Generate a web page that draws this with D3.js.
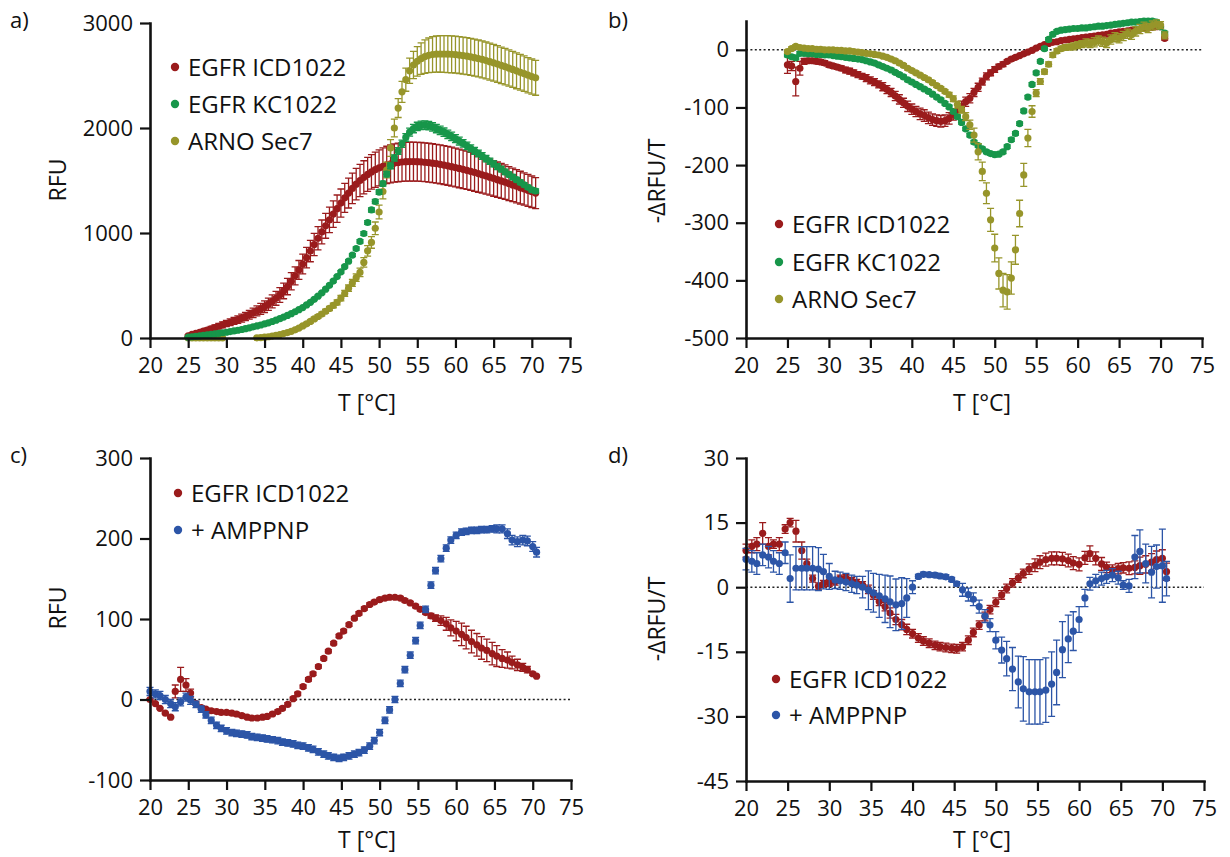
<!DOCTYPE html>
<html>
<head>
<meta charset="utf-8">
<script src="https://cdn.jsdelivr.net/npm/d3@7"></script>
<style>
  html, body { margin: 0; padding: 0; background: #fff; }
  svg { display: block; font-family: "Open Sans", "Noto Sans", sans-serif; }
</style>
</head>
<body>
<svg id="chart" width="1230" height="857"></svg>
<script>
// ---------- temperature grids (°C) ----------
const tempsAB = [
  25,25.5,26,26.5,27,27.5,28,28.5,29,29.5,
  30,30.5,31,31.5,32,32.5,33,33.5,34,34.5,
  35,35.5,36,36.5,37,37.5,38,38.5,39,39.5,
  40,40.5,41,41.5,42,42.5,43,43.5,44,44.5,
  45,45.5,46,46.5,47,47.5,48,48.5,49,49.5,
  50,50.5,51,51.5,52,52.5,53,53.5,54,54.5,
  55,55.5,56,56.5,57,57.5,58,58.5,59,59.5,
  60,60.5,61,61.5,62,62.5,63,63.5,64,64.5,
  65,65.5,66,66.5,67,67.5,68,68.5,69,69.5,
  70,70.5
];
const tempsCD = [
  20,20.7,21.3,22,22.7,23.3,24,24.7,25.3,26,26.7,27.3,28,28.7,29.3,
  30,30.7,31.3,32,32.7,33.3,34,34.7,35.3,36,36.7,37.3,38,38.7,39.3,
  40,40.7,41.3,42,42.7,43.3,44,44.7,45.3,46,46.7,47.3,48,48.7,49.3,
  50,50.7,51.3,52,52.7,53.3,54,54.7,55.3,56,56.7,57.3,58,58.7,59.3,
  60,60.7,61.3,62,62.7,63.3,64,64.7,65.3,66,66.7,67.3,68,68.7,69.3,
  70,70.5
];

// ---------- a) melt curves, RFU ----------
const rfuICD = [
  20,35,45,55,65,75,88,100,112,125,
  138,150,163,175,190,205,222,240,258,277,
  298,322,348,378,410,448,490,540,592,648,
  705,765,828,890,950,1010,1068,1125,1180,1232,
  1285,1335,1380,1425,1465,1500,1530,1558,1582,1603,
  1620,1635,1648,1658,1666,1672,1676,1679,1680,1680,
  1679,1677,1674,1670,1665,1660,1654,1647,1640,1632,
  1624,1615,1606,1597,1587,1577,1566,1555,1544,1532,
  1520,1508,1496,1484,1471,1458,1445,1432,1419,1406,
  1393,1380
];
const rfuICDErr = [
  10,12,14,16,18,20,22,24,26,28,
  30,32,34,36,38,40,42,45,48,52,
  55,58,62,66,70,74,78,82,86,90,
  94,98,102,106,110,114,118,122,126,130,
  134,138,142,146,150,154,158,162,165,168,
  172,175,178,180,182,184,185,185,185,185,
  185,185,185,185,185,185,185,185,185,185,
  185,184,183,182,181,180,178,176,174,172,
  170,168,166,164,162,160,158,156,154,152,
  150,148
];
const rfuKC = [
  8,12,16,20,25,30,35,40,45,50,
  55,61,67,74,81,89,97,106,115,124,
  134,145,157,170,184,199,215,232,250,270,
  290,315,340,368,398,430,465,502,542,585,
  630,680,732,790,852,920,995,1100,1220,1300,
  1390,1470,1560,1640,1715,1780,1850,1910,1960,1995,
  2015,2025,2028,2022,2010,1995,1978,1960,1940,1920,
  1898,1876,1853,1830,1806,1782,1758,1733,1708,1683,
  1658,1633,1608,1583,1558,1533,1508,1483,1459,1435,
  1412,1400
];
const rfuKCErr = [
  5,5,5,5,5,5,5,5,5,5,
  5,5,5,5,5,5,5,5,5,5,
  6,6,6,6,6,6,6,6,6,6,
  8,8,8,8,9,9,10,10,10,10,
  12,12,14,14,16,16,18,18,20,20,
  22,24,26,28,30,32,34,36,38,40,
  40,40,40,40,40,40,40,40,40,40,
  38,38,36,36,34,34,32,32,30,30,
  28,28,26,26,24,24,22,22,20,20,
  20,20
];
const rfuARNO = [
  0,0,0,0,0,0,0,0,0,0,
  null,null,null,null,null,null,null,null,2,4,
  8,12,18,25,33,42,52,64,78,95,
  115,135,158,182,205,228,255,282,310,340,
  380,425,475,525,575,625,720,830,910,1045,
  1200,1395,1600,1810,2000,2190,2345,2460,2545,2600,
  2635,2660,2680,2692,2700,2704,2705,2705,2704,2702,
  2699,2695,2690,2684,2677,2670,2662,2653,2643,2632,
  2621,2609,2597,2584,2571,2558,2545,2531,2517,2503,
  2490,2478
];
const rfuARNOErr = [
  5,5,5,5,5,5,5,5,5,5,
  0,0,0,0,0,0,0,0,5,5,
  5,5,6,6,7,8,9,10,11,12,
  13,14,15,16,17,18,19,20,22,24,
  26,28,30,33,36,40,45,50,55,60,
  65,70,75,80,85,90,100,110,120,130,
  140,150,160,165,170,172,174,175,176,176,
  176,176,176,176,176,176,176,176,176,176,
  175,175,174,174,173,172,171,170,169,168,
  167,166
];

// ---------- b) first derivative, -ΔRFU/T ----------
const dICD = [
  -26,-28,-55,-32,-20,-19,-19,-20,-21,-23,
  -26,-28,-30,-32,-35,-37,-40,-43,-46,-49,
  -53,-56,-60,-64,-69,-74,-80,-86,-92,-98,
  -103,-107,-111,-114,-118,-121,-123,-124,-123,-119,
  -112,-105,-98,-90,-84,-74,-65,-55,-46,-40,
  -34,-29,-25,-20,-16,-13,-10,-7,-4,-1,
  3,6,9,11,13,14,16,17,18,19,
  20,21,22,23,24,25,26,27,29,30,
  31,32,33,34,35,36,37,38,39,40,
  40,20
];
const dICDErr = [
  15,8,25,12,5,4,4,4,4,4,
  4,4,4,4,5,5,5,5,5,6,
  6,6,6,7,7,7,8,8,8,9,
  9,9,10,10,10,10,10,10,10,10,
  10,9,9,8,8,7,7,6,6,5,
  5,4,4,3,3,3,2,2,2,2,
  2,2,2,2,2,2,2,2,2,2,
  3,3,3,3,3,3,3,3,3,3,
  3,3,3,3,3,3,3,3,3,3,
  3,3
];
const dKC = [
  -9,-12,-14,-6,-6,-7,-7,-8,-8,-9,
  -9,-10,-11,-12,-13,-14,-15,-16,-17,-19,
  -21,-23,-26,-29,-32,-35,-39,-43,-47,-52,
  -56,-60,-64,-68,-72,-77,-82,-87,-93,-99,
  -107,-116,-126,-137,-148,-160,-166,-172,-177,-180,
  -182,-181,-177,-168,-156,-145,-128,-106,-82,-60,
  -40,-20,2,18,27,32,34,35,36,37,
  37,38,38,39,40,41,41,42,43,44,
  45,46,47,48,48,49,50,50,50,48,
  40,29
];
const dKCErr = [
  3,3,3,3,3,3,3,3,3,3,
  3,3,3,3,3,3,3,3,3,3,
  3,3,3,3,3,3,3,3,3,3,
  3,3,3,3,3,3,3,3,3,3,
  3,3,3,3,3,3,3,3,3,3,
  3,3,3,3,3,3,3,3,3,3,
  3,3,3,3,3,3,3,3,3,3,
  3,3,3,3,3,3,3,3,3,3,
  3,3,3,3,3,3,3,3,3,3,
  3,3
];
const dARNO = [
  -3,2,6,4,3,2,2,1,1,0,
  0,0,-1,-1,-2,-2,-3,-4,-5,-6,
  -7,-8,-9,-11,-13,-16,-19,-23,-27,-32,
  -36,-40,-44,-48,-52,-57,-62,-67,-72,-78,
  -85,-95,-104,-116,-130,-148,-177,-211,-249,-295,
  -344,-388,-417,-420,-396,-347,-284,-217,-153,-107,
  -75,-55,-38,-25,-9,-2,2,4,5,6,
  8,10,12,11,13,16,14,12,18,22,
  20,24,28,26,32,36,40,38,42,44,
  43,25
];
const dARNOErr = [
  3,3,3,3,3,3,3,3,3,3,
  3,3,3,3,3,3,3,3,3,3,
  3,3,3,3,3,3,3,3,3,3,
  3,3,3,3,3,3,3,3,3,4,
  5,6,6,7,8,12,14,16,18,20,
  24,27,29,30,28,25,23,20,15,10,
  6,5,4,4,4,4,4,5,5,6,
  6,6,7,7,8,8,8,8,8,8,
  8,8,8,8,8,8,8,8,8,8,
  6,6
];

// ---------- c) melt curves ± AMPPNP, RFU ----------
const rfuICD2 = [
  0,-5,-11,-17,-22,10,25,18,8,-5,-10,-12,-14,-15,-16,
  -16,-17,-18,-20,-22,-23,-23,-22,-21,-18,-15,-11,-6,1,7,
  16,25,32,41,51,60,70,79,85,93,101,107,113,118,121,
  124,126,127,127,126,123,120,116,112,108,104,101,98,94,89,
  85,81,77,72,68,64,61,57,54,51,49,46,43,40,37,
  32,29
];
const rfuICD2Err = [
  1,1,1,1,1,8,15,8,5,2,2,2,2,2,2,
  2,2,2,2,2,2,2,2,2,2,2,2,2,2,2,
  2,2,2,2,2,2,2,2,2,2,2,2,2,2,2,
  2,2,2,2,2,2,2,2,2,2,3,4,6,8,10,
  12,14,14,14,14,14,14,14,13,11,10,8,7,5,4,
  2,1
];
const rfuAMP = [
  10,7,5,0,-5,-9,-3,3,-1,-6,-12,-19,-26,-32,-36,
  -39,-41,-42,-43,-44,-46,-47,-48,-49,-50,-51,-53,-54,-55,-57,
  -58,-60,-62,-65,-68,-70,-72,-73,-72,-70,-68,-66,-63,-58,-51,
  -41,-26,-13,0,20,37,55,73,92,112,142,160,175,188,198,
  204,208,209,210,210,211,211,212,212,212,206,198,196,198,197,
  190,183
];
const rfuAMPErr = [
  5,5,5,5,5,5,5,5,5,4,4,4,4,4,4,
  4,4,4,4,4,4,4,4,4,4,4,4,4,4,4,
  4,4,4,4,4,4,4,4,4,4,4,4,4,4,4,
  4,4,4,4,4,4,4,4,4,4,4,4,4,4,4,
  4,4,4,4,4,4,4,4,5,5,6,6,6,6,6,
  6,6
];

// ---------- d) first derivative ± AMPPNP ----------
const dICD2 = [
  8.5,9.5,10,12.5,9.5,10,10,13.5,15,13,8.5,5.5,2,0.2,0.8,
  1,1.3,2,2.2,1.5,1,0.5,-0.5,-1.8,-3.3,-4.5,-6,-7.5,-8.7,-9.8,
  -10.8,-11.8,-12.5,-13,-13.5,-13.8,-14,-14.2,-14.3,-13.8,-12.3,-10.5,-8.8,-6.8,-5.2,
  -3.5,-1.8,-0.3,1,2.1,3.2,4.2,5.1,5.8,6.4,6.7,6.7,6.6,6.2,5.6,
  5.3,6.8,7.8,6.7,5.4,4.6,4,4.3,4.5,4.4,4.6,5,5.3,5.8,6.4,
  6.7,3.6
];
const dICD2Err = [
  1.5,1.5,1.5,2.5,2,1,1.5,1,1,2.5,2,1,0.8,0.8,0.8,
  0.8,0.8,0.8,0.8,0.8,0.8,0.8,1,1,1,1,1.2,1.2,1.2,1.2,
  1,1,1,1,1,1,1,1,1,1,1,1,1,1,1,
  1,1,1,1,1,1,1.2,1.5,1.5,1.5,1.5,1.5,1.5,1.5,1.5,
  1.5,1.5,1.8,1.5,1.5,1.2,1.2,1.2,1.2,1.5,1.5,2,2,2,2,
  2,2
];
const dAMP = [
  6.5,6,5.5,7.5,7,6,5.5,8,2,4.4,4.4,4.4,4.4,4.2,3.6,
  2.5,1.7,1.5,1.2,0.8,0.5,0,-0.7,-1.3,-2,-2.7,-3.4,-4.1,-3.8,-2.5,
  0,2.5,3,2.9,2.8,2.6,2.4,1.8,0.8,-0.6,-1.7,-2.8,-4.5,-6.7,-8.8,
  -12.3,-14.6,-16.6,-19,-22,-23.6,-24.3,-24.3,-24.3,-23.9,-22.5,-19.8,-14.5,-12,-10.2,
  -7.5,-2.5,0.8,1.5,2,2.4,2.8,2.2,0.5,0.3,7,8.3,5.5,3.5,4.8,
  5,2
];
const dAMPErr = [
  2.5,2.5,2.5,2.5,2.5,2.5,2.5,2.5,5.5,5,5,5,5,5,4,
  3,2,2,2,2,2,2.5,4.5,4.5,5,5.5,6,6,6,4.5,
  1.5,0.5,0.5,0.5,0.5,0.5,0.5,0.5,0.5,1.5,1.5,1.5,1.5,1.5,1.5,
  2,3,4,5,6,7.5,7.5,7.5,7.5,7.5,7.5,7.5,6.5,5.5,4.5,
  3,2,1.5,1.5,1.5,1.5,1.5,1.5,1,1.5,5,5,4.5,6,5,
  8.5,4
];

// ---------- axis ticks ----------
const xTicks = [20,25,30,35,40,45,50,55,60,65,70,75];
const yTicksA = [0,1000,2000,3000];
const yTicksB = [-500,-400,-300,-200,-100,0];
const yTicksC = [-100,0,100,200,300];
const yTicksD = [-45,-30,-15,0,15,30];

const COLOR = { icd: '#9a1b1c', kc: '#17964a', arno: '#97952a', amp: '#2c55a7' };
const NAMES = { icd: 'EGFR ICD1022', kc: 'EGFR KC1022', arno: 'ARNO Sec7', amp: '+ AMPPNP' };

const panels = [
  {
    tag: 'a)', tagPos: [10, 28], xRange: [150, 570], yRange: [338, 23], yDomain: [0, 3000], yTicks: yTicksA,
    temps: tempsAB, zeroLine: false, yTitle: 'RFU', yTitlePos: [66, 180], xTitlePos: [367, 411],
    series: [
      { key: 'icd', values: rfuICD, errors: rfuICDErr },
      { key: 'arno', values: rfuARNO, errors: rfuARNOErr },
      { key: 'kc', values: rfuKC, errors: rfuKCErr }
    ],
    legend: { keys: ['icd', 'kc', 'arno'], x: 175, y: [67, 104, 141] }
  },
  {
    tag: 'b)', tagPos: [608, 28], xRange: [746, 1202], yRange: [338, 21], yDomain: [-500, 50], yTicks: yTicksB,
    temps: tempsAB, zeroLine: true, yTitle: '-ΔRFU/T', yTitlePos: [665, 181], xTitlePos: [982, 411],
    series: [
      { key: 'icd', values: dICD, errors: dICDErr },
      { key: 'kc', values: dKC, errors: dKCErr },
      { key: 'arno', values: dARNO, errors: dARNOErr }
    ],
    legend: { keys: ['icd', 'kc', 'arno'], x: 779, y: [224, 262, 299] }
  },
  {
    tag: 'c)', tagPos: [10, 463], xRange: [150, 571], yRange: [780, 458], yDomain: [-100, 300], yTicks: yTicksC,
    temps: tempsCD, zeroLine: true, yTitle: 'RFU', yTitlePos: [66, 608], xTitlePos: [367, 848],
    series: [
      { key: 'icd', values: rfuICD2, errors: rfuICD2Err },
      { key: 'amp', values: rfuAMP, errors: rfuAMPErr }
    ],
    legend: { keys: ['icd', 'amp'], x: 178, y: [493, 530] }
  },
  {
    tag: 'd)', tagPos: [608, 463], xRange: [746, 1204], yRange: [781, 458], yDomain: [-45, 30], yTicks: yTicksD,
    temps: tempsCD, zeroLine: true, yTitle: '-ΔRFU/T', yTitlePos: [665, 619], xTitlePos: [982, 848],
    series: [
      { key: 'icd', values: dICD2, errors: dICD2Err },
      { key: 'amp', values: dAMP, errors: dAMPErr }
    ],
    legend: { keys: ['icd', 'amp'], x: 776, y: [679, 715] }
  }
];

const svg = d3.select('#chart');
const FONT = '"Open Sans", "Noto Sans", sans-serif';
const fmt = d => (d < 0 ? '-' + Math.abs(d) : String(d));
const CAP = 3.5;   // half width of error-bar caps
const R = 3.6;     // symbol radius

function drawPanel(p) {
  const x = d3.scaleLinear().domain([20, 75]).range(p.xRange);
  const y = d3.scaleLinear().domain(p.yDomain).range(p.yRange);
  const g = svg.append('g');

  // dotted zero baseline
  if (p.zeroLine) {
    g.append('line')
      .attr('x1', x(20)).attr('x2', x(75))
      .attr('y1', y(0)).attr('y2', y(0))
      .attr('stroke', '#222').attr('stroke-width', 1.4)
      .attr('stroke-dasharray', '2,2.4');
  }

  // data: error bars then symbols, series by series
  p.series.forEach(s => {
    const color = COLOR[s.key];
    const pts = p.temps.map((t, i) => ({ t, v: s.values[i], e: s.errors[i] }))
      .filter(d => d.v !== null && d.v !== undefined);
    const sg = g.append('g');
    sg.selectAll('path')
      .data(pts.filter(d => d.e > 0))
      .join('path')
      .attr('d', d => {
        const cx = x(d.t), y1 = y(d.v + d.e), y2 = y(d.v - d.e);
        return `M${cx},${y1}V${y2}M${cx - CAP},${y1}H${cx + CAP}M${cx - CAP},${y2}H${cx + CAP}`;
      })
      .attr('fill', 'none')
      .attr('stroke', color)
      .attr('stroke-width', 1.3);
    sg.selectAll('circle')
      .data(pts)
      .join('circle')
      .attr('cx', d => x(d.t))
      .attr('cy', d => y(d.v))
      .attr('r', R)
      .attr('fill', color);
  });

  // axes
  const xAxis = g.append('g')
    .attr('transform', `translate(0,${p.yRange[0]})`)
    .call(d3.axisBottom(x).tickValues(xTicks).tickSize(10).tickPadding(9).tickSizeOuter(0).tickFormat(fmt));
  const yAxis = g.append('g')
    .attr('transform', `translate(${p.xRange[0]},0)`)
    .call(d3.axisLeft(y).tickValues(p.yTicks).tickSize(10).tickPadding(7).tickSizeOuter(0).tickFormat(fmt));
  [xAxis, yAxis].forEach(a => {
    a.attr('font-family', FONT).attr('font-size', 22);
    a.select('.domain').attr('stroke', '#111').attr('stroke-width', 2.6).attr('stroke-linecap', 'square');
    a.selectAll('.tick line').attr('stroke', '#111').attr('stroke-width', 2.2);
    a.selectAll('.tick text').attr('fill', '#111');
  });

  // axis titles
  g.append('text')
    .attr('transform', `translate(${p.yTitlePos[0]},${p.yTitlePos[1]}) rotate(-90)`)
    .attr('text-anchor', 'middle')
    .attr('font-family', FONT).attr('font-size', 23).attr('fill', '#111')
    .text(p.yTitle);
  g.append('text')
    .attr('x', p.xTitlePos[0]).attr('y', p.xTitlePos[1])
    .attr('text-anchor', 'middle')
    .attr('font-family', FONT).attr('font-size', 23).attr('fill', '#111')
    .text('T [°C]');

  // panel tag
  g.append('text')
    .attr('x', p.tagPos[0]).attr('y', p.tagPos[1])
    .attr('font-family', FONT).attr('font-size', 22).attr('fill', '#111')
    .text(p.tag);

  // legend
  const lg = g.append('g');
  p.legend.keys.forEach((k, i) => {
    const ly = p.legend.y[i];
    lg.append('circle').attr('cx', p.legend.x).attr('cy', ly).attr('r', 4.2).attr('fill', COLOR[k]);
    lg.append('text')
      .attr('x', p.legend.x + 13).attr('y', ly).attr('dy', '0.36em')
      .attr('font-family', FONT).attr('font-size', 24).attr('fill', '#111')
      .text(NAMES[k]);
  });
}

panels.forEach(drawPanel);
</script>
</body>
</html>
